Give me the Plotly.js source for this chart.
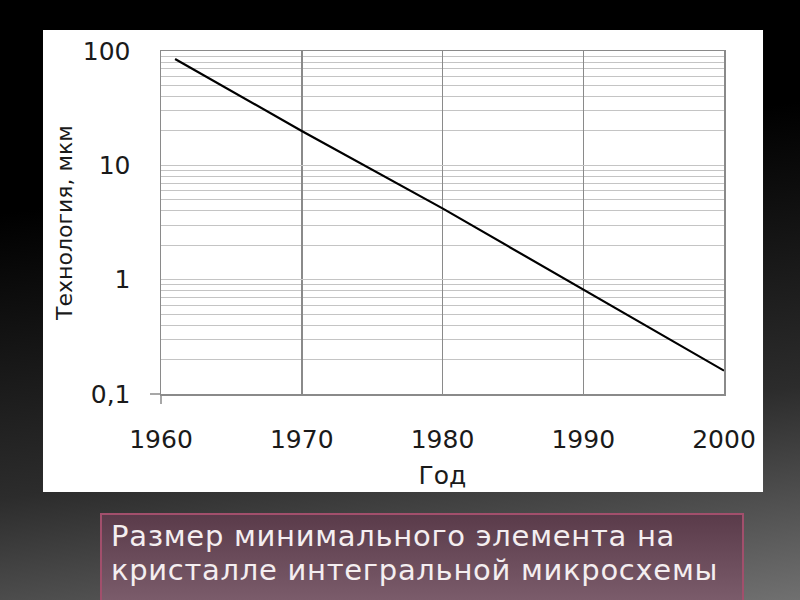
<!DOCTYPE html>
<html>
<head>
<meta charset="utf-8">
<script src="https://cdn.plot.ly/plotly-3.0.1.min.js"></script>
<style>
  html, body { margin:0; padding:0; width:800px; height:600px; overflow:hidden; }
  body { background: linear-gradient(172deg, #000 0%, #000 30%, #2c2c2c 70%, #707070 100%); position:relative; }
  #chart { position:absolute; left:0; top:0; width:800px; height:600px; }
  #caption {
    position:absolute; left:100px; top:513px; width:644px; height:90px;
    border:2px solid #a24f6c; box-sizing:border-box;
    background: linear-gradient(to bottom, #5a3b4a, #7b5c6b);
    color:#f4eef0; font-family:"DejaVu Sans", sans-serif; font-size:29px;
    line-height:34px; padding:4px 0 0 9px; letter-spacing:0.7px; white-space:nowrap;
  }
</style>
</head>
<body>
<div id="chart"></div>
<div id="caption">Размер минимального элемента на<br>кристалле интегральной микросхемы</div>
<script>
const years = [1961, 1970, 1980, 1990, 2000];
const sizes = [85, 20, 4.2, 0.82, 0.16];
const yTickVals = [0.1, 1, 10, 100];
const yTickText = ['0,1', '1', '10', '100'];
const xTickVals = [1960, 1970, 1980, 1990, 2000];
const xTitle = 'Год';
const yTitle = 'Технология, мкм';

const font = {family: '"DejaVu Sans", "Liberation Sans", sans-serif', color: '#1a1a1a'};

const trace = {
  x: years, y: sizes, type: 'scatter', mode: 'lines',
  line: {color: '#000', width: 2.2}, hoverinfo: 'skip'
};

const layout = {
  width: 800, height: 600,
  margin: {l: 161, r: 76, t: 51, b: 206},
  paper_bgcolor: 'rgba(0,0,0,0)',
  plot_bgcolor: '#fff',
  showlegend: false,
  xaxis: {
    range: [1960, 2000], tickvals: xTickVals, ticktext: xTickVals.map(String),
    showgrid: true, gridcolor: '#8a8a8a', gridwidth: 1.5,
    showline: true, linecolor: '#8a8a8a', linewidth: 1.5, mirror: true,
    ticks: '', zeroline: false, ticklabelstandoff: 22,
    tickfont: Object.assign({size: 25}, font),
    title: {text: xTitle, font: Object.assign({size: 25}, font), standoff: 14}
  },
  yaxis: {
    type: 'log', range: [-1, 2], tickvals: yTickVals, ticktext: yTickText,
    showgrid: true, gridcolor: '#c4c4c4', gridwidth: 1,
    minor: {showgrid: true, gridcolor: '#c4c4c4', gridwidth: 1, dtick: 'D1', ticks: ''},
    showline: true, linecolor: '#8a8a8a', linewidth: 1.5, mirror: true,
    ticks: '', zeroline: false, ticklabelstandoff: 24,
    tickfont: Object.assign({size: 25}, font),
    title: {text: yTitle, font: Object.assign({size: 22}, font), standoff: 4}
  },
  shapes: [
    {type: 'rect', xref: 'paper', yref: 'paper', x0: -0.2096, x1: 1.0693, y0: -0.2857, y1: 1.0612,
     fillcolor: '#fff', line: {width: 0}, layer: 'below'},
    {type: 'line', xref: 'paper', yref: 'paper', xsizemode: 'pixel', xanchor: 0, x0: -11, x1: 0, y0: 0, y1: 0,
     line: {color: '#8a8a8a', width: 1.5}},
    {type: 'line', xref: 'paper', yref: 'paper', ysizemode: 'pixel', yanchor: 0, y0: -10, y1: 0, x0: 0, x1: 0,
     line: {color: '#8a8a8a', width: 1.5}}
  ]
};

Plotly.newPlot('chart', [trace], layout, {staticPlot: true, displayModeBar: false});
</script>
</body>
</html>
